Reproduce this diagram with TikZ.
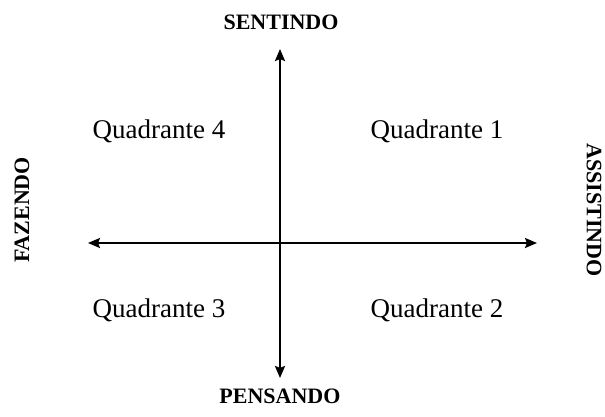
\documentclass[tikz,border=0pt]{standalone}
\usepackage{fontspec}
\setmainfont{Liberation Serif}
\usetikzlibrary{positioning,arrows.meta}
\tikzstyle{every node}+=[inner sep=0pt]
\tikzstyle{axis}=[line width=2.2pt,{Stealth[length=12pt,width=10pt,inset=2pt]}-{Stealth[length=12pt,width=10pt,inset=2pt]}]
\tikzstyle{pole}=[font=\fontsize{22}{24}\selectfont\bfseries]
\tikzstyle{quad}=[font=\fontsize{27}{30}\selectfont]
\begin{document}
\begin{tikzpicture}[x=1pt,y=-1pt]
    \useasboundingbox (0,0) rectangle (605,417);

    % axis ends
    \coordinate (top) at (280,49);
    \coordinate (bottom) at (280,378);
    \coordinate (left) at (88,243);
    \coordinate (right) at (537,243);
    \draw[axis] (top) -- (bottom);
    \draw[axis] (left) -- (right);

    % poles
    \node[pole] (sentindo) at (281,22) {SENTINDO};
    \node[pole] (pensando) at (280,396) {PENSANDO};
    \node[pole,rotate=90] (fazendo) at (22,210) {FAZENDO};
    \node[pole,rotate=-90] (assistindo) at (594,210) {ASSISTINDO};

    % quadrants
    \node[quad] (q4) at (159,131) {Quadrante 4};
    \node[quad] (q1) at (437,131) {Quadrante 1};
    \node[quad] (q3) at (159,310) {Quadrante 3};
    \node[quad] (q2) at (437,310) {Quadrante 2};
\end{tikzpicture}
\end{document}
